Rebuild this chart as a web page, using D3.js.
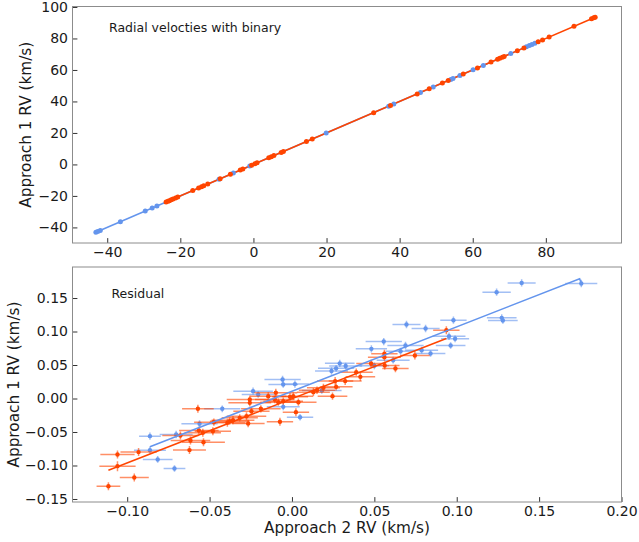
<!DOCTYPE html>
<html>
<head>
<meta charset="utf-8">
<script src="https://cdn.jsdelivr.net/npm/d3@7"></script>
<style>
  html, body { margin: 0; padding: 0; background: #ffffff; }
  svg { display: block; font-family: "DejaVu Sans", sans-serif; }
</style>
</head>
<body>
<svg id="chart" width="639" height="542"></svg>
<script>
// ---- Top panel: radial velocities of both components ----
const topBlueX = [-43.1, -42.6, -41.9, -36.4, -29.6, -27.7, -26.4, -9.4, -5.5, -1.0, 19.9, 37.0, 38.4, 45.7, 49.2, 54.0, 54.6, 56.5, 60.1, 62.9, 70.4, 74.7, 75.5, 76.2, 77.0];
const topBlueY = [-43.1, -42.6, -41.9, -36.4, -29.6, -27.7, -26.4, -9.4, -5.5, -1.0, 19.9, 37.0, 38.4, 45.7, 49.2, 54.0, 54.6, 56.5, 60.1, 62.9, 70.4, 74.7, 75.5, 76.2, 77.0];
const topRedX = [-23.9, -23.4, -23.0, -22.5, -22.0, -21.3, -20.7, -16.6, -15.0, -14.2, -13.6, -12.5, -9.1, -6.3, -3.6, -2.9, -0.5, 0.4, 1.0, 4.2, 4.9, 5.6, 7.6, 8.2, 14.5, 16.1, 32.9, 37.5, 44.8, 48.1, 51.7, 53.3, 57.4, 61.3, 65.0, 66.8, 67.4, 68.1, 68.6, 72.2, 74.0, 77.9, 79.1, 80.9, 87.7, 92.5, 93.1, 93.5];
const topRedY = [-23.9, -23.4, -23.0, -22.5, -22.0, -21.3, -20.7, -16.6, -15.0, -14.2, -13.6, -12.5, -9.1, -6.3, -3.6, -2.9, -0.5, 0.4, 1.0, 4.2, 4.9, 5.6, 7.6, 8.2, 14.5, 16.1, 32.9, 37.5, 44.8, 48.1, 51.7, 53.3, 57.4, 61.3, 65.0, 66.8, 67.4, 68.1, 68.6, 72.2, 74.0, 77.9, 79.1, 80.9, 87.7, 92.5, 93.1, 93.5];
const topBlueFit = [[-43.1, -43.1], [77.0, 77.0]];
const topRedFit = [[-23.9, -23.9], [93.5, 93.5]];
const topXTicks = [-40, -20, 0, 20, 40, 60, 80];
const topYTicks = [-40, -20, 0, 20, 40, 60, 80, 100];

// ---- Bottom panel: residuals with error bars ----
const resBlueX = [-0.0862, -0.0862, -0.0815, -0.0713, -0.0703, -0.0561, -0.0423, -0.0236, -0.0205, -0.0057, -0.0053, -0.0053, 0.0018, 0.0049, 0.0181, 0.0240, 0.0268, 0.0290, 0.0326, 0.0500, 0.0482, 0.0557, 0.0614, 0.0659, 0.0689, 0.0695, 0.0787, 0.0811, 0.0841, 0.0953, 0.0963, 0.0980, 0.0990, 0.1242, 0.1273, 0.1280, 0.1394, 0.1756];
const resBlueY = [-0.0562, -0.0771, -0.0910, -0.1045, -0.0537, -0.0378, -0.0154, 0.0110, 0.0060, 0.0284, 0.0210, -0.0125, 0.0215, -0.0280, 0.0120, 0.0410, 0.0450, 0.0525, 0.0485, 0.0488, 0.0741, 0.0850, 0.0572, 0.0706, 0.0791, 0.1104, 0.0721, 0.1045, 0.0672, 0.0930, 0.0791, 0.1169, 0.0891, 0.1587, 0.1204, 0.1164, 0.1726, 0.1716];
const resBlueXErr = [0.0066, 0.0097, 0.0090, 0.0066, 0.0100, 0.0110, 0.0110, 0.0120, 0.0100, 0.0110, 0.0090, 0.0100, 0.0085, 0.0080, 0.0120, 0.0100, 0.0110, 0.0090, 0.0100, 0.0090, 0.0095, 0.0110, 0.0100, 0.0090, 0.0110, 0.0085, 0.0100, 0.0085, 0.0090, 0.0100, 0.0090, 0.0080, 0.0085, 0.0086, 0.0090, 0.0090, 0.0085, 0.0097];
const resBlueYErr = [0.0055, 0.0055, 0.0050, 0.0050, 0.0055, 0.0055, 0.0050, 0.0055, 0.0050, 0.0055, 0.0050, 0.0050, 0.0055, 0.0050, 0.0050, 0.0055, 0.0050, 0.0055, 0.0050, 0.0050, 0.0055, 0.0055, 0.0050, 0.0050, 0.0055, 0.0055, 0.0050, 0.0055, 0.0050, 0.0055, 0.0050, 0.0055, 0.0050, 0.0055, 0.0055, 0.0050, 0.0055, 0.0055];

const resRedX = [-0.1114, -0.1059, -0.1059, -0.0957, -0.0931, -0.0677, -0.0622, -0.0616, -0.0571, -0.0565, -0.0541, -0.0537, -0.0480, -0.0474, -0.0392, -0.0378, -0.0358, -0.0317, -0.0276, -0.0266, -0.0256, -0.0256, -0.0246, -0.0189, -0.0144, -0.0104, -0.0098, -0.0083, -0.0073, -0.0053, -0.0012, 0.0008, 0.0024, 0.0039, 0.0130, 0.0152, 0.0191, 0.0246, 0.0262, 0.0268, 0.0323, 0.0390, 0.0415, 0.0480, 0.0561, 0.0561, 0.0563, 0.0628, 0.0746, 0.0937];
const resRedY = [-0.1310, -0.1010, -0.0836, -0.1180, -0.0800, -0.0552, -0.0770, -0.0627, -0.0154, -0.0478, -0.0512, -0.0652, -0.0488, -0.0353, -0.0363, -0.0338, -0.0323, -0.0289, -0.0264, -0.0373, -0.0015, -0.0065, -0.0190, -0.0154, 0.0035, -0.0015, 0.0085, -0.0055, -0.0348, -0.0040, 0.0025, 0.0035, -0.0204, -0.0055, 0.0095, 0.0124, 0.0160, 0.0035, 0.0260, 0.0174, 0.0260, 0.0393, 0.0323, 0.0522, 0.0667, 0.0617, 0.0493, 0.0448, 0.0642, 0.1020];
const resRedXErr = [0.0072, 0.0110, 0.0104, 0.0088, 0.0110, 0.0110, 0.0100, 0.0120, 0.0096, 0.0120, 0.0110, 0.0130, 0.0110, 0.0120, 0.0110, 0.0120, 0.0130, 0.0110, 0.0120, 0.0100, 0.0140, 0.0130, 0.0110, 0.0120, 0.0110, 0.0120, 0.0130, 0.0110, 0.0080, 0.0120, 0.0110, 0.0120, 0.0080, 0.0110, 0.0100, 0.0110, 0.0100, 0.0090, 0.0110, 0.0100, 0.0100, 0.0100, 0.0090, 0.0090, 0.0080, 0.0100, 0.0090, 0.0080, 0.0090, 0.0080];
const resRedYErr = [0.0060, 0.0075, 0.0060, 0.0060, 0.0060, 0.0060, 0.0060, 0.0060, 0.0060, 0.0055, 0.0060, 0.0060, 0.0060, 0.0055, 0.0060, 0.0055, 0.0060, 0.0055, 0.0060, 0.0055, 0.0060, 0.0055, 0.0060, 0.0055, 0.0060, 0.0055, 0.0060, 0.0055, 0.0060, 0.0055, 0.0060, 0.0055, 0.0060, 0.0055, 0.0060, 0.0055, 0.0060, 0.0055, 0.0060, 0.0055, 0.0060, 0.0055, 0.0060, 0.0055, 0.0060, 0.0055, 0.0060, 0.0055, 0.0060, 0.0060];

const resBlueFit = [[-0.0862, -0.0721], [0.1746, 0.1787], [0.1756, 0.1716]];
const resRedFit = [[-0.1114, -0.1070], [0.0937, 0.0896]];
const resXTicks = [-0.10, -0.05, 0.00, 0.05, 0.10, 0.15, 0.20];
const resYTicks = [-0.15, -0.10, -0.05, 0.00, 0.05, 0.10, 0.15];

const BLUE = "#6495ED";
const RED = "#FF4500";
const TEXT = "#1a1a1a";
const fmtMinus = s => s.replace("-", "\u2212");

const svg = d3.select("#chart");
svg.append("rect").attr("width", 639).attr("height", 542).attr("fill", "#fff");

const frameL = 72.5, frameR = 621.5;

function panel(opts) {
  const g = svg.append("g");
  const x = d3.scaleLinear().domain(opts.xDomain).range([frameL, frameR]);
  const y = d3.scaleLinear().domain(opts.yDomain).range([opts.bottom, opts.top]);

  // ticks pointing inward, labels just outside the frame
  const xAxis = d3.axisBottom(x).tickValues(opts.xTicks).tickSizeInner(-4.9).tickSizeOuter(0)
    .tickPadding(4.5).tickFormat(d => fmtMinus(d3.format(opts.xFmt)(d)));
  const yAxis = d3.axisLeft(y).tickValues(opts.yTicks).tickSizeInner(-4.9).tickSizeOuter(0)
    .tickPadding(4.5).tickFormat(d => fmtMinus(d3.format(opts.yFmt)(d)));

  const gx = g.append("g").attr("transform", `translate(0,${opts.bottom})`).call(xAxis);
  const gy = g.append("g").attr("transform", `translate(${frameL},0)`).call(yAxis);
  [gx, gy].forEach(a => {
    a.select(".domain").remove();
    a.selectAll(".tick line").attr("stroke", "#333").attr("stroke-width", 1);
    a.selectAll(".tick text").attr("fill", TEXT).style("font-size", "14px")
      .style("font-family", "DejaVu Sans, sans-serif");
  });

  // frame
  g.append("rect").attr("x", frameL).attr("y", opts.top)
    .attr("width", frameR - frameL).attr("height", opts.bottom - opts.top)
    .attr("fill", "none").attr("stroke", "#8c8c8c").attr("stroke-width", 1);

  const clipId = "clip" + opts.top;
  svg.append("clipPath").attr("id", clipId).append("rect")
    .attr("x", frameL).attr("y", opts.top).attr("width", frameR - frameL).attr("height", opts.bottom - opts.top);
  const plot = g.append("g").attr("clip-path", `url(#${clipId})`);
  return { g, x, y, plot };
}

// ---------------- top panel ----------------
const P1 = panel({
  top: 6.5, bottom: 243, xDomain: [-49.5, 100.7], yDomain: [-49.9, 100.3],
  xTicks: topXTicks, yTicks: topYTicks, xFmt: "d", yFmt: "d"
});
const line1 = d3.line().x(d => P1.x(d[0])).y(d => P1.y(d[1]));
P1.plot.append("path").datum(topBlueFit).attr("d", line1)
  .attr("fill", "none").attr("stroke", BLUE).attr("stroke-width", 1.5);
P1.plot.append("path").datum(topRedFit).attr("d", line1)
  .attr("fill", "none").attr("stroke", RED).attr("stroke-width", 1.5);
P1.plot.selectAll(".tb").data(d3.zip(topBlueX, topBlueY)).join("circle")
  .attr("cx", d => P1.x(d[0])).attr("cy", d => P1.y(d[1])).attr("r", 2.5).attr("fill", BLUE);
P1.plot.selectAll(".tr").data(d3.zip(topRedX, topRedY)).join("circle")
  .attr("cx", d => P1.x(d[0])).attr("cy", d => P1.y(d[1])).attr("r", 2.5).attr("fill", RED);

P1.g.append("text").attr("x", 109).attr("y", 31.5).text("Radial velocties with binary")
  .attr("fill", TEXT).style("font-size", "12.5px");
P1.g.append("text").attr("transform", `translate(30.5,${(6.5 + 243) / 2}) rotate(-90)`)
  .attr("text-anchor", "middle").text("Approach 1 RV (km/s)")
  .attr("fill", TEXT).style("font-size", "15.3px");

// ---------------- bottom panel ----------------
const P2 = panel({
  top: 267, bottom: 502, xDomain: [-0.1332, 0.2], yDomain: [-0.1545, 0.1963],
  xTicks: resXTicks, yTicks: resYTicks, xFmt: ".2f", yFmt: ".2f"
});

function errorSeries(P, xs, ys, xe, ye, color) {
  const data = xs.map((v, i) => ({ x: v, y: ys[i], xe: xe[i], ye: ye[i] }));
  const eg = P.plot.append("g").attr("stroke", color).attr("stroke-width", 1.5).attr("stroke-opacity", 0.6);
  eg.selectAll(".h").data(data).join("line")
    .attr("x1", d => P.x(d.x - d.xe)).attr("x2", d => P.x(d.x + d.xe))
    .attr("y1", d => P.y(d.y)).attr("y2", d => P.y(d.y));
  eg.selectAll(".v").data(data).join("line")
    .attr("x1", d => P.x(d.x)).attr("x2", d => P.x(d.x))
    .attr("y1", d => P.y(d.y - d.ye)).attr("y2", d => P.y(d.y + d.ye));
  P.plot.append("g").selectAll("circle").data(data).join("circle")
    .attr("cx", d => P.x(d.x)).attr("cy", d => P.y(d.y)).attr("r", 2.2).attr("fill", color);
}
errorSeries(P2, resBlueX, resBlueY, resBlueXErr, resBlueYErr, BLUE);
errorSeries(P2, resRedX, resRedY, resRedXErr, resRedYErr, RED);

const line2 = d3.line().x(d => P2.x(d[0])).y(d => P2.y(d[1]));
P2.plot.append("path").datum(resBlueFit).attr("d", line2)
  .attr("fill", "none").attr("stroke", BLUE).attr("stroke-width", 1.5);
P2.plot.append("path").datum(resRedFit).attr("d", line2)
  .attr("fill", "none").attr("stroke", RED).attr("stroke-width", 1.5);

P2.g.append("text").attr("x", 111.5).attr("y", 298).text("Residual")
  .attr("fill", TEXT).style("font-size", "12.5px");
P2.g.append("text").attr("transform", `translate(19,${(267 + 502) / 2}) rotate(-90)`)
  .attr("text-anchor", "middle").text("Approach 1 RV (km/s)")
  .attr("fill", TEXT).style("font-size", "15.3px");
P2.g.append("text").attr("x", (frameL + frameR) / 2).attr("y", 532.5)
  .attr("text-anchor", "middle").text("Approach 2 RV (km/s)")
  .attr("fill", TEXT).style("font-size", "15.3px");
</script>
</body>
</html>
